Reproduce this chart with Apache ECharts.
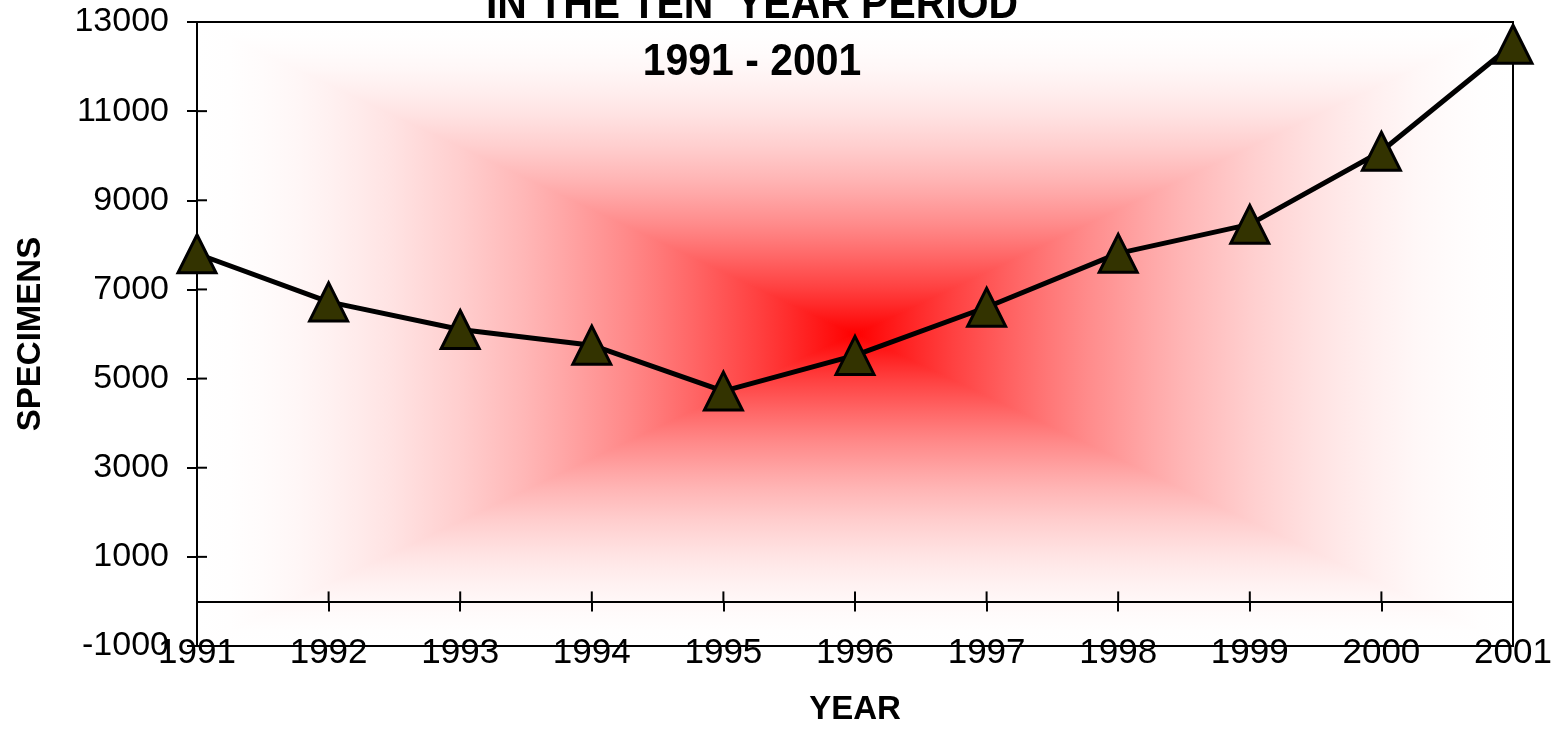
<!DOCTYPE html>
<html>
<head>
<meta charset="utf-8">
<title>Specimens 1991 - 2001</title>
<script src="https://cdn.jsdelivr.net/npm/echarts@6/dist/echarts.min.js"></script>
<style>
  html, body { margin: 0; padding: 0; background: #ffffff; }
  #chart { width: 1561px; height: 729px; }
</style>
</head>
<body>
<div id="chart"></div>
<script>
// ---- data ----
const years = ['1991', '1992', '1993', '1994', '1995', '1996', '1997', '1998', '1999', '2000', '2001'];
const specimens = [7800, 6720, 6100, 5750, 4720, 5520, 6600, 7810, 8460, 10100, 12500];
const yMin = -1000;
const yMax = 13000;
const yStep = 2000;
const yTicks = [-1000, 1000, 3000, 5000, 7000, 9000, 11000, 13000];
const titleLines = ['IN THE TEN  YEAR PERIOD', '1991 - 2001'];
const xName = 'YEAR';
const yName = 'SPECIMENS';

// ---- layout & style ----
const FONT = '"Liberation Sans", Arial, Helvetica, sans-serif';
const GRID = { left: 197, right: 48, top: 22, bottom: 83 };
const W = 1561, H = 729;
const plot = {
  x0: GRID.left, x1: W - GRID.right,
  y0: GRID.top, y1: H - GRID.bottom
};
plot.cx = (plot.x0 + plot.x1) / 2;
plot.cy = (plot.y0 + plot.y1) / 2;
const BLACK = '#000000';
const TICK_LEN = 10;

// colour ramp of the plot-area fill: white at the border, pure red at the centre
function rampStops() {
  const stops = [];
  const n = 20;
  for (let i = 0; i <= n; i++) {
    const f = i / n;
    const w = 1 - Math.pow(f, 1.8);
    const g = Math.round(255 * w);
    stops.push({ offset: f, color: 'rgb(255,' + g + ',' + g + ')' });
  }
  return stops;
}
const stops = rampStops();

// "from centre" fill built from four triangles, each shading toward the centre
function panel(points, x, y, x2, y2) {
  const grad = { type: 'linear', x: x, y: y, x2: x2, y2: y2, colorStops: stops, global: false };
  return {
    type: 'polygon',
    silent: true,
    z: -10,
    shape: { points: points },
    style: { fill: grad, stroke: grad, lineWidth: 1.2 }
  };
}
const TL = [plot.x0, plot.y0], TR = [plot.x1, plot.y0];
const BL = [plot.x0, plot.y1], BR = [plot.x1, plot.y1];
const C = [plot.cx, plot.cy];
const backdrop = [
  panel([TL, BL, C], 0, 0, 1, 0),
  panel([TR, BR, C], 1, 0, 0, 0),
  panel([TL, TR, C], 0, 0, 0, 1),
  panel([BL, BR, C], 0, 1, 0, 0)
];

function titleText(text, y) {
  return {
    type: 'text',
    silent: true,
    x: 752,
    y: y,
    scaleX: 0.93,
    z: 10,
    style: {
      text: text,
      font: 'bold 44px ' + FONT,
      fill: BLACK,
      align: 'center',
      verticalAlign: 'middle',
      textAlign: 'center',
      textVerticalAlign: 'middle'
    }
  };
}

// short tick segment starting at a data position, offset in pixels (dx, dy)
function tickSeries(points, dx, dy) {
  return {
    type: 'custom',
    xAxisIndex: 0,
    yAxisIndex: 0,
    silent: true,
    z: 3,
    clip: false,
    data: points,
    renderItem: function (params, api) {
      const p = api.coord([api.value(0), api.value(1)]);
      return {
        type: 'line',
        shape: { x1: p[0], y1: p[1], x2: p[0] + dx, y2: p[1] + dy },
        style: { stroke: BLACK, lineWidth: 2 }
      };
    }
  };
}

const tickStyle = { color: BLACK, width: 2 };
const plainNumber = function (v) { return String(v); };

const option = {
  animation: false,
  backgroundColor: '#ffffff',
  textStyle: { fontFamily: FONT },
  grid: {
    left: GRID.left, right: GRID.right, top: GRID.top, bottom: GRID.bottom,
    show: true,
    backgroundColor: 'transparent',
    borderColor: BLACK,
    borderWidth: 2,
    containLabel: false,
    outerBoundsMode: 'none'
  },
  graphic: { elements: backdrop.concat([titleText(titleLines[0], 6), titleText(titleLines[1], 63)]) },
  xAxis: {
    type: 'category',
    data: years,
    boundaryGap: false,
    position: 'bottom',
    axisLine: { show: true, onZero: true, lineStyle: { color: BLACK, width: 2 } },
    axisTick: { show: true, inside: false, length: TICK_LEN, interval: 0, lineStyle: tickStyle },
    axisLabel: { show: true, interval: 0, margin: -10, color: BLACK, fontSize: 35, fontFamily: FONT },
    splitLine: { show: false },
    name: xName,
    nameLocation: 'middle',
    nameGap: 47,
    nameTextStyle: { color: BLACK, fontSize: 33, fontWeight: 'bold', fontFamily: FONT }
  },
  yAxis: {
    type: 'value',
    min: yMin,
    max: yMax,
    interval: yStep,
    position: 'left',
    axisLine: { show: true, lineStyle: { color: BLACK, width: 2 } },
    axisTick: { show: true, inside: false, length: TICK_LEN, lineStyle: tickStyle },
    axisLabel: { show: true, margin: 28, color: BLACK, fontSize: 34, fontFamily: FONT, formatter: plainNumber },
    splitLine: { show: false },
    name: yName,
    nameLocation: 'middle',
    nameRotate: 90,
    nameGap: 150,
    nameTextStyle: { color: BLACK, fontSize: 33, fontWeight: 'bold', fontFamily: FONT }
  },
  series: [
    // inner half of the crossing ticks on the value axis
    tickSeries(yTicks.map(function (v) { return [0, v]; }), TICK_LEN, 0),
    // upper half of the crossing ticks on the zero line
    tickSeries(years.map(function (y, i) { return [i, 0]; }), 0, -TICK_LEN),
    {
      type: 'line',
      data: specimens,
      xAxisIndex: 0,
      yAxisIndex: 0,
      symbol: 'triangle',
      symbolSize: [38, 38],
      showAllSymbol: true,
      clip: false,
      z: 5,
      lineStyle: { color: BLACK, width: 5 },
      itemStyle: { color: '#333300', borderColor: BLACK, borderWidth: 3 },
      emphasis: { disabled: true },
      silent: true
    }
  ]
};

const chart = echarts.init(document.getElementById('chart'), null, { renderer: 'canvas', width: W, height: H });
chart.setOption(option);
</script>
</body>
</html>
